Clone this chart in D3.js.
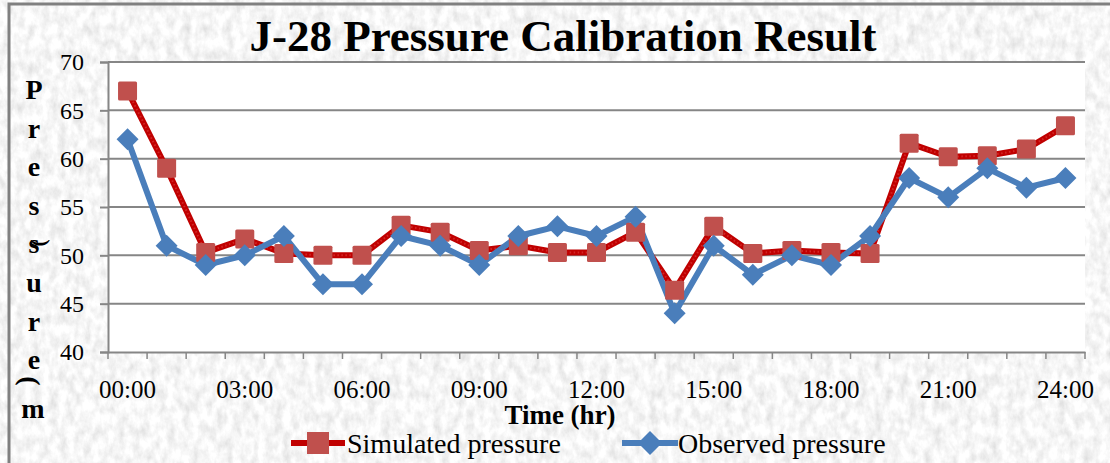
<!DOCTYPE html>
<html>
<head>
<meta charset="utf-8">
<script src="https://cdn.jsdelivr.net/npm/d3@7"></script>
<style>
  body { margin: 0; background: #fff; }
  svg { display: block; font-family: "Liberation Serif", "Times New Roman", serif; }
</style>
</head>
<body>
<svg id="chart"></svg>
<script>
// data
const hours = ['00:00','01:00','02:00','03:00','04:00','05:00','06:00','07:00','08:00','09:00','10:00','11:00','12:00',
  '13:00','14:00','15:00','16:00','17:00','18:00','19:00','20:00','21:00','22:00','23:00','24:00'];
const simulated = [67, 59, 50.3, 51.7, 50.2, 50, 50, 53.1, 52.4, 50.5, 51, 50.3, 50.3,
  52.4, 46.4, 53, 50.2, 50.5, 50.3, 50.2, 61.6, 60.2, 60.3, 61, 63.4];
const observed = [62, 51, 49, 50, 52, 47, 47, 52, 51, 49, 52, 53, 52,
  54, 44, 51, 48, 50, 49, 52, 58, 56, 59, 57, 58];
const yTicks = [40, 45, 50, 55, 60, 65, 70];
const shownLabels = hours.filter((d, i) => i % 3 === 0);

const width = 1110, height = 463;
const margin = { top: 62, right: 25, bottom: 111, left: 108 };

const svg = d3.select('#chart').attr('width', width).attr('height', height);

// grey marble-ish background
const defs = svg.append('defs');
const f = defs.append('filter').attr('id', 'marble').attr('x', 0).attr('y', 0).attr('width', '100%').attr('height', '100%');
f.append('feTurbulence').attr('type', 'fractalNoise').attr('baseFrequency', '0.12 0.08').attr('numOctaves', 4).attr('seed', 3);
f.append('feColorMatrix').attr('type', 'matrix')
  .attr('values', '0.45 0 0 0 0.7  0.45 0 0 0 0.7  0.45 0 0 0 0.7  0 0 0 0 1');

svg.append('rect').attr('width', width).attr('height', height).attr('fill', '#ebebeb');
svg.append('rect').attr('width', width).attr('height', height).attr('filter', 'url(#marble)');
svg.append('rect').attr('x', 9).attr('y', 4).attr('width', width).attr('height', height)
  .attr('fill', 'none').attr('stroke', '#808080').attr('stroke-width', 3);

const x = d3.scaleBand().domain(hours).range([margin.left, width - margin.right]).padding(0);
const y = d3.scaleLinear().domain([40, 70]).range([height - margin.bottom, margin.top]);
const cx = d => x(d) + x.bandwidth() / 2;

// plot area
svg.append('rect')
  .attr('x', margin.left).attr('y', margin.top)
  .attr('width', width - margin.left - margin.right)
  .attr('height', height - margin.top - margin.bottom)
  .attr('fill', '#fff');

// gridlines + y axis
const yAxis = svg.append('g')
  .attr('transform', `translate(${margin.left},0)`)
  .call(d3.axisLeft(y).tickValues(yTicks).tickSize(8).tickPadding(16));
yAxis.select('.domain').attr('stroke', '#868686').attr('stroke-width', 2);
yAxis.selectAll('.tick line').attr('stroke', '#868686').attr('stroke-width', 2);
yAxis.selectAll('.tick text').attr('font-size', 24).attr('fill', '#000').attr('font-family', 'Liberation Serif');

svg.append('g').selectAll('line')
  .data(yTicks.filter(d => d > 40))
  .join('line')
  .attr('x1', margin.left).attr('x2', width - margin.right)
  .attr('y1', d => y(d)).attr('y2', d => y(d))
  .attr('stroke', '#868686').attr('stroke-width', 2);

// x axis
const xAxis = svg.append('g')
  .attr('transform', `translate(0,${height - margin.bottom})`)
  .call(d3.axisBottom(x).tickValues(shownLabels).tickSize(0).tickPadding(28));
xAxis.select('.domain').attr('stroke', '#868686').attr('stroke-width', 2);
xAxis.selectAll('.tick text').attr('font-size', 25).attr('fill', '#000').attr('font-family', 'Liberation Serif');

svg.append('g').selectAll('line')
  .data(hours.concat(['end']))
  .join('line')
  .attr('x1', (d, i) => i < hours.length ? x(d) : x.range()[1])
  .attr('x2', (d, i) => i < hours.length ? x(d) : x.range()[1])
  .attr('y1', y(40)).attr('y2', y(40) + 7)
  .attr('stroke', '#868686').attr('stroke-width', 1.5);

// lines
const line = vals => d3.line().x((d, i) => cx(hours[i])).y(d => y(d))(vals);

svg.append('path').attr('d', line(simulated))
  .attr('fill', 'none').attr('stroke', '#c00000').attr('stroke-width', 6).attr('stroke-linejoin', 'round');
svg.append('path').attr('d', line(simulated))
  .attr('fill', 'none').attr('stroke', '#e04040').attr('stroke-width', 2).attr('stroke-dasharray', '1.5 2.5').attr('opacity', 0.6);

svg.append('path').attr('d', line(observed))
  .attr('fill', 'none').attr('stroke', '#4a7ebb').attr('stroke-width', 6).attr('stroke-linejoin', 'round');

const sq = 19;
svg.append('g').selectAll('rect')
  .data(simulated)
  .join('rect')
  .attr('x', (d, i) => cx(hours[i]) - sq / 2)
  .attr('y', d => y(d) - sq / 2)
  .attr('width', sq).attr('height', sq).attr('rx', 1.5)
  .attr('fill', '#c0504d');

const dm = 11;
svg.append('g').selectAll('path')
  .data(observed)
  .join('path')
  .attr('d', (d, i) => {
    const px = cx(hours[i]), py = y(d);
    return `M${px},${py - dm}L${px + dm},${py}L${px},${py + dm}L${px - dm},${py}Z`;
  })
  .attr('fill', '#4a7ebb');

// title
svg.append('text')
  .attr('x', 563).attr('y', 51)
  .attr('text-anchor', 'middle')
  .attr('font-size', 45).attr('font-weight', 'bold')
  .text('J-28 Pressure Calibration Result');

// y axis title, stacked letters
const yLetters = ['P', 'r', 'e', 's', 's', 'u', 'r', 'e'];
svg.append('g').selectAll('text')
  .data(yLetters)
  .join('text')
  .attr('x', 34).attr('y', (d, i) => 99 + i * 38.6)
  .attr('text-anchor', 'middle')
  .attr('font-size', 28).attr('font-weight', 'bold')
  .text(d => d);
svg.append('text')
  .attr('transform', 'translate(31,381) rotate(90)')
  .attr('text-anchor', 'middle').attr('dy', '0.35em')
  .attr('font-size', 28).attr('font-weight', 'bold')
  .text('(');
svg.append('text')
  .attr('x', 33).attr('y', 418)
  .attr('text-anchor', 'middle')
  .attr('font-size', 28).attr('font-weight', 'bold')
  .text('m');
svg.append('text')
  .attr('transform', 'translate(43,243) rotate(90)')
  .attr('text-anchor', 'middle').attr('dy', '0.35em')
  .attr('font-size', 22).attr('font-weight', 'bold')
  .text(')');

// x axis title
svg.append('text')
  .attr('x', 560).attr('y', 424)
  .attr('text-anchor', 'middle')
  .attr('font-size', 27).attr('font-weight', 'bold')
  .text('Time (hr)');

// legend
const legend = svg.append('g');
legend.append('line').attr('x1', 291).attr('x2', 345).attr('y1', 443).attr('y2', 443)
  .attr('stroke', '#c00000').attr('stroke-width', 6);
legend.append('rect').attr('x', 307).attr('y', 432).attr('width', 22).attr('height', 22).attr('fill', '#c0504d');
legend.append('text').attr('x', 347).attr('y', 453).attr('font-size', 28).text('Simulated pressure');

legend.append('line').attr('x1', 622).attr('x2', 678).attr('y1', 443).attr('y2', 443)
  .attr('stroke', '#4a7ebb').attr('stroke-width', 6);
legend.append('path').attr('d', 'M650,431L662,443L650,455L638,443Z').attr('fill', '#4a7ebb');
legend.append('text').attr('x', 678).attr('y', 453).attr('font-size', 28).text('Observed pressure');
</script>
</body>
</html>
